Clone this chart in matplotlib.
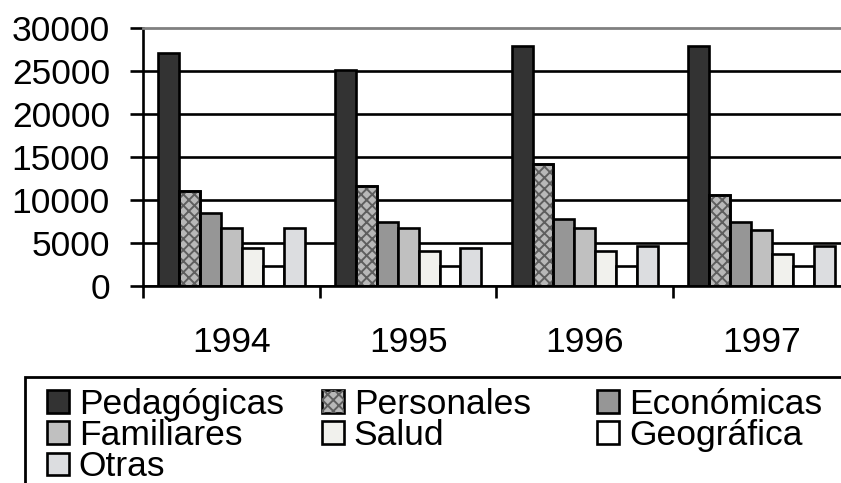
import matplotlib
matplotlib.use('Agg')
import matplotlib.pyplot as plt
from matplotlib.patches import Rectangle
import numpy as np

# ---------------- data ----------------
years = ['1994', '1995', '1996', '1997']
series_names = ['Pedagógicas', 'Personales', 'Económicas', 'Familiares',
                'Salud', 'Geográfica', 'Otras']
pedagogicas = [27000, 25100, 27900, 27900]
personales = [11000, 11600, 14200, 10500]
economicas = [8400, 7400, 7700, 7400]
familiares = [6700, 6700, 6700, 6500]
salud = [4400, 4000, 4000, 3700]
geografica = [2300, 2300, 2300, 2300]
otras = [6700, 4400, 4600, 4600]
y_ticks = [0, 5000, 10000, 15000, 20000, 25000, 30000]

series_values = [pedagogicas, personales, economicas, familiares,
                 salud, geografica, otras]
face_colors = ['#333333', '#b8b8b8', '#969696', '#c0c0c0',
               '#f1f1ed', '#ffffff', '#dcdde0']
textured = {'Personales': ('xxx', '#5e5e5e')}

FONT = 'Liberation Sans'
FS = 25.5
LW = 1.9
plt.rcParams['font.family'] = [FONT, 'DejaVu Sans']
plt.rcParams['hatch.linewidth'] = 1.4

W, H, DPI = 841, 483, 100
fig = plt.figure(figsize=(W / DPI, H / DPI), dpi=DPI)
ax = fig.add_axes([143 / W, (H - 285.7) / H, 707 / W, 258 / H])

n = len(series_names)
bw = 0.1185
x = np.arange(len(years)) + 0.5
handles = []
for j, (name, vals, fc) in enumerate(zip(series_names, series_values, face_colors)):
    pos = x + (j - (n - 1) / 2) * bw
    base = ax.bar(pos, vals, width=bw, color=fc, edgecolor='black',
                  linewidth=LW, zorder=2)
    if name in textured:
        hatch, hcol = textured[name]
        over = ax.bar(pos, vals, width=bw, facecolor='none', edgecolor=hcol,
                      hatch=hatch, linewidth=0, zorder=2.1)
        ax.bar(pos, vals, width=bw, facecolor='none', edgecolor='black',
               linewidth=LW, zorder=2.2)
        handles.append((base.patches[0], over.patches[0]))
    else:
        handles.append(base.patches[0])

ax.set_xlim(0, len(years))
ax.set_ylim(y_ticks[0], y_ticks[-1])
ax.set_yticks(y_ticks)
ax.set_yticklabels([str(t) for t in y_ticks])

ax.set_xticks(np.arange(len(years) + 1))
ax.set_xticklabels([''] * (len(years) + 1))
ax.set_xticks(x, minor=True)
ax.set_xticklabels(years, minor=True)

ax.tick_params(axis='y', direction='out', length=9.4, width=LW, pad=14.4,
               labelsize=FS, colors='black')
ax.tick_params(axis='x', which='major', direction='out', length=8.6, width=LW)
ax.tick_params(axis='x', which='minor', length=0, pad=29.2, labelsize=FS)

ax.yaxis.grid(True, color='black', linewidth=LW)
ax.set_axisbelow(True)
gl = ax.yaxis.get_gridlines()
gl[-1].set_visible(False)

ax.spines['right'].set_visible(False)
ax.spines['top'].set_color('#808080')
ax.spines['top'].set_linewidth(2.0)
ax.spines['left'].set_linewidth(LW)
ax.spines['bottom'].set_linewidth(LW)

# legend: three fixed-width columns (rows: Ped/Pers/Eco, Fam/Salud/Geo, Otras)
columns = [[0, 3, 6], [1, 4], [2, 5]]
col_x = [47, 322, 597]
for idx, cx in zip(columns, col_x):
    fig.legend([handles[i] for i in idx], [series_names[i] for i in idx],
               ncol=1, loc='upper left',
               bbox_to_anchor=(cx / W, 1 - 388 / H),
               frameon=False, borderpad=0, borderaxespad=0,
               handlelength=0.62, handleheight=0.62, handletextpad=0.28,
               labelspacing=-0.05,
               prop={'family': FONT, 'size': FS})

fig.add_artist(Rectangle((25 / W, -0.2), 1.2, (1 - 377 / H) + 0.2,
                         transform=fig.transFigure, fill=False,
                         edgecolor='black', linewidth=2.0))

fig.savefig('out.png', dpi=DPI)
